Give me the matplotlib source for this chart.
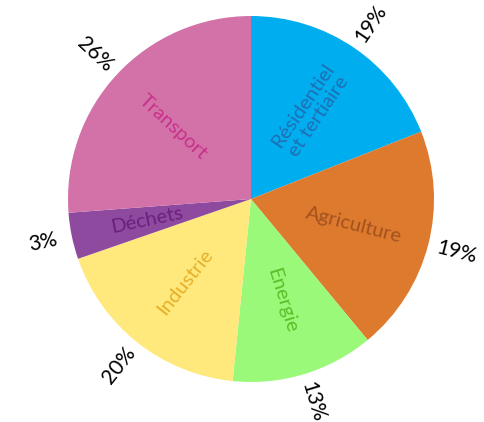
import numpy as np
import matplotlib
matplotlib.use("Agg")
import matplotlib.pyplot as plt

secteurs = ["Résidentiel\net tertiaire", "Agriculture", "Energie", "Industrie", "Déchets", "Transport"]
parts = [19.0, 20.0, 12.6, 18.1, 4.1, 26.2]
etiquettes = ["19%", "19%", "13%", "20%", "3%", "26%"]

couleurs = ["#00AEEF", "#DD7A2E", "#9BF97A", "#FFE97C", "#8E4A9E", "#D372A9"]
couleurs_texte = ["#1F6FB5", "#A3521F", "#5BBF2A", "#E6B02A", "#6B1F7E", "#C8318A"]

plt.rcParams['font.family'] = ['Lato', 'DejaVu Sans']

fig = plt.figure(figsize=(4.84, 4.22), dpi=100)
ax = fig.add_axes([0, 0, 1, 1])

cx, cy, R = 251, 223, 183
wedges, _ = ax.pie(parts, colors=couleurs, startangle=90, counterclock=False,
                   center=(cx, cy), radius=R, frame=True,
                   wedgeprops=dict(linewidth=0))
ax.set_xlim(0, 484)
ax.set_ylim(0, 422)
ax.set_aspect('equal')
ax.axis('off')

for w, nom, pct, ct in zip(wedges, secteurs, etiquettes, couleurs_texte):
    mid = (w.theta1 + w.theta2) / 2
    a = np.deg2rad(mid)
    rot = mid
    # keep text readable on the left side
    m = ((mid + 180) % 360) - 180
    if m > 90 or m < -90:
        rot = mid + 180
    ax.text(cx + 0.58 * R * np.cos(a), cy + 0.58 * R * np.sin(a), nom,
            rotation=rot, rotation_mode='anchor', ha='center', va='center',
            color=ct, fontsize=14.5, linespacing=1.15)
    ax.text(cx + 1.16 * R * np.cos(a), cy + 1.16 * R * np.sin(a), pct,
            rotation=rot, rotation_mode='anchor', ha='center', va='center',
            color='black', fontsize=15)

fig.savefig("out.png", dpi=100)
